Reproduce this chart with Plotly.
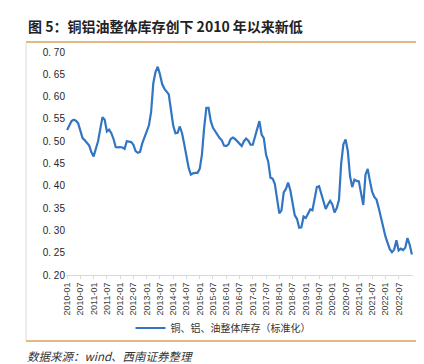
import plotly.graph_objects as go

# ---- data ----
start_year, start_month = 2010, 1
values = [
    0.525, 0.537, 0.545, 0.548, 0.546, 0.540, 0.522, 0.507, 0.502, 0.496,
    0.490, 0.475, 0.466, 0.483, 0.500, 0.527, 0.554, 0.548, 0.522, 0.526,
    0.518, 0.505, 0.487, 0.486, 0.487, 0.486, 0.483, 0.500, 0.499, 0.498,
    0.492, 0.478, 0.474, 0.476, 0.495, 0.509, 0.520, 0.535, 0.565, 0.630,
    0.655, 0.667, 0.650, 0.628, 0.618, 0.612, 0.605, 0.570, 0.535, 0.518,
    0.519, 0.533, 0.518, 0.493, 0.465, 0.440, 0.425, 0.428, 0.429, 0.429,
    0.438, 0.470, 0.530, 0.575, 0.575, 0.545, 0.530, 0.522, 0.512, 0.507,
    0.502, 0.490, 0.489, 0.493, 0.505, 0.508, 0.505, 0.500, 0.495, 0.489,
    0.500, 0.506, 0.501, 0.492, 0.492, 0.508, 0.528, 0.545, 0.515, 0.507,
    0.470, 0.454, 0.418, 0.416, 0.404, 0.370, 0.338, 0.345, 0.385, 0.393,
    0.407, 0.390, 0.360, 0.334, 0.326, 0.306, 0.307, 0.331, 0.328, 0.338,
    0.347, 0.345, 0.373, 0.397, 0.399, 0.381, 0.368, 0.348, 0.358, 0.366,
    0.358, 0.340, 0.350, 0.368, 0.450, 0.493, 0.504, 0.478, 0.422, 0.397,
    0.414, 0.411, 0.410, 0.378, 0.357, 0.425, 0.438, 0.411, 0.387, 0.375,
    0.369, 0.350, 0.330, 0.305, 0.287, 0.272, 0.258, 0.251, 0.257, 0.278,
    0.255, 0.259, 0.256, 0.261, 0.283, 0.268, 0.246,
]
dates = []
y, m = start_year, start_month
for _ in values:
    dates.append(f"{y}-{m:02d}")
    m += 1
    if m > 12:
        m = 1
        y += 1
last_label = "2022-07"
tick_labels = [d for d in dates if (d.endswith("-01") or d.endswith("-07")) and d <= last_label]
y_ticks = [0.20, 0.25, 0.30, 0.35, 0.40, 0.45, 0.50, 0.55, 0.60, 0.65, 0.70]
y_tick_text = ["0. %02d" % round(v * 100) for v in y_ticks]

series_name = "铜、铝、油整体库存（标准化）"
title_text = "图 5：铜铝油整体库存创下 2010 年以来新低"
source_text = "数据来源：wind、西南证券整理"

# ---- layout geometry ----
W, H = 424, 364
L, R, T, B = 58, 19, 44, 97
PW, PH = W - L - R, H - T - B

def px(x):
    return (x - L) / PW

def py(yv):
    return (H - B - yv) / PH

fig = go.Figure()
fig.add_trace(go.Scatter(
    x=dates, y=values, mode="lines", name=series_name,
    line=dict(color="#3276C3", width=2.2),
))

fig.update_layout(
    width=W, height=H,
    margin=dict(l=L, r=R, t=T, b=B),
    paper_bgcolor="white", plot_bgcolor="white",
    font=dict(family="Noto Sans CJK SC, Liberation Sans, sans-serif", color="#333333"),
    showlegend=True,
    legend=dict(orientation="h", x=px(215), xanchor="center", y=py(320), yanchor="middle",
                font=dict(size=10, color="#333333"), bgcolor="rgba(0,0,0,0)",
                itemwidth=30),
    xaxis=dict(
        type="category", range=[-0.5, len(values) - 0.5],
        tickmode="array", tickvals=tick_labels, ticktext=tick_labels,
        tickangle=-90, tickfont=dict(size=9, color="#404040", family="Liberation Sans, Arial"),
        showgrid=False, showline=True, linecolor="#D9D9D9", linewidth=1,
        ticks="outside", ticklen=3, tickcolor="#D9D9D9", zeroline=False,
    ),
    yaxis=dict(
        range=[0.2, 0.7], tickmode="array", tickvals=y_ticks, ticktext=y_tick_text,
        tickfont=dict(size=10, color="#262626", family="Liberation Sans, Arial"),
        showgrid=False, showline=False, zeroline=False, ticks="",
    ),
)

shapes = [
    dict(type="line", xref="paper", yref="paper", x0=px(18), x1=px(416), y0=py(34), y1=py(34),
         line=dict(color="#D9A05B", width=1.5)),
    dict(type="line", xref="paper", yref="paper", x0=px(18), x1=px(416), y0=py(333), y1=py(333),
         line=dict(color="#D9A05B", width=1.5)),
    dict(type="line", xref="paper", yref="paper", x0=px(18), x1=px(18), y0=py(35), y1=py(332),
         line=dict(color="#D9D9D9", width=1)),
    dict(type="line", xref="paper", yref="paper", x0=px(414), x1=px(414), y0=py(35), y1=py(332),
         line=dict(color="#D9D9D9", width=1)),
]
fig.update_layout(shapes=shapes)

fig.add_annotation(x=px(18), y=py(18), xref="paper", yref="paper", xanchor="left", yanchor="middle",
                   text="<b>" + title_text + "</b>", showarrow=False,
                   font=dict(size=14, color="#222222", family="Noto Sans CJK SC"))
fig.add_annotation(x=px(17), y=py(348), xref="paper", yref="paper", xanchor="left", yanchor="middle",
                   text="<i>" + source_text + "</i>", showarrow=False,
                   font=dict(size=11.5, color="#333333", family="Noto Sans CJK SC"))

fig.write_html("out.html")
